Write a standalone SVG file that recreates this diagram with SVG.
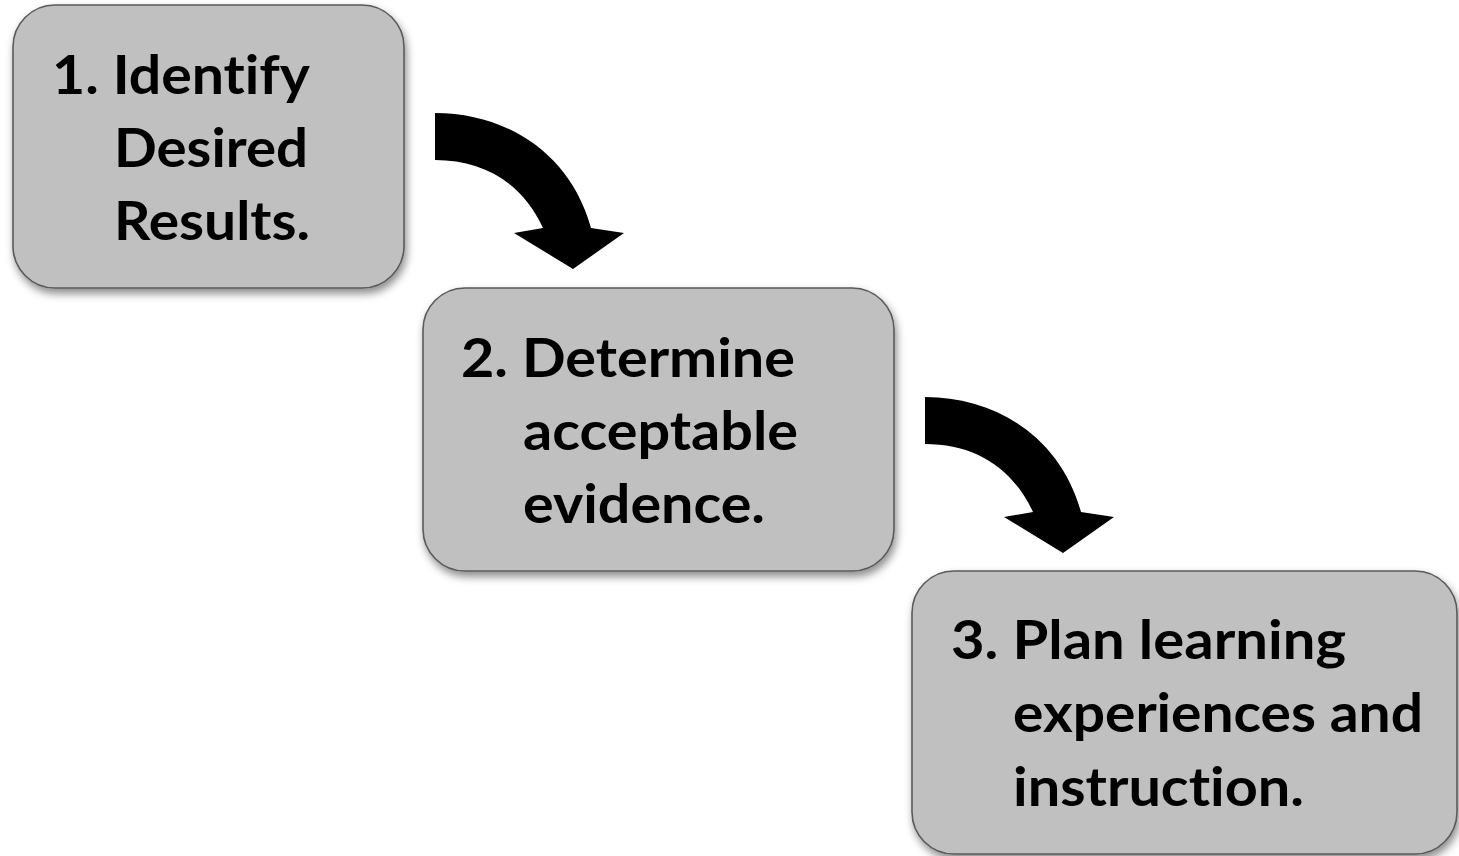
<svg xmlns="http://www.w3.org/2000/svg" width="1459" height="856" viewBox="0 0 1459 856">
<style>
.box{fill:#c0c0c0;stroke:#5a5a5a;stroke-width:1.6;filter:url(#sh)}
.t{font-family:Lato,"Open Sans","Liberation Sans",sans-serif;font-weight:bold;font-size:54px;fill:#000;font-variant-ligatures:none;font-feature-settings:"liga" 0,"clig" 0,"dlig" 0}
.arr{fill:#000}
</style>
<defs>
<filter id="sh" x="-10%" y="-10%" width="120%" height="125%">
<feDropShadow dx="2" dy="5" stdDeviation="4" flood-color="#000" flood-opacity="0.45"/>
</filter>
<path id="arrow" d="M435,113 C505,113 570,152 591,228 L624,233 L573,269 L514,233 L543,228 C522,183 484,160 435,160 Z"/>
</defs>
<rect width="1459" height="856" fill="#fff"/>
<g id="connectors">
<use href="#arrow" class="arr"/>
<use href="#arrow" class="arr" transform="translate(490,284)"/>
</g>
<g id="node1">
<rect class="box" x="13" y="5" width="391" height="283" rx="42"/>
<text class="t" x="52" y="94" textLength="258" lengthAdjust="spacingAndGlyphs">1. Identify</text>
<text class="t" x="114" y="167" textLength="194" lengthAdjust="spacingAndGlyphs">Desired</text>
<text class="t" x="114" y="240" textLength="196" lengthAdjust="spacingAndGlyphs">Results.</text>
</g>
<g id="node2">
<rect class="box" x="423" y="288" width="471" height="283" rx="42"/>
<text class="t" x="461" y="377" textLength="334" lengthAdjust="spacingAndGlyphs">2. Determine</text>
<text class="t" x="523" y="450" textLength="275" lengthAdjust="spacingAndGlyphs">acceptable</text>
<text class="t" x="523" y="523" textLength="242" lengthAdjust="spacingAndGlyphs">evidence.</text>
</g>
<g id="node3">
<rect class="box" x="912" y="571" width="545" height="283" rx="42"/>
<text class="t" x="951" y="659" textLength="395" lengthAdjust="spacingAndGlyphs">3. Plan learning</text>
<text class="t" x="1013" y="732" textLength="410" lengthAdjust="spacingAndGlyphs">experiences and</text>
<text class="t" x="1013" y="806" textLength="291" lengthAdjust="spacingAndGlyphs">instruction.</text>
</g>
</svg>
